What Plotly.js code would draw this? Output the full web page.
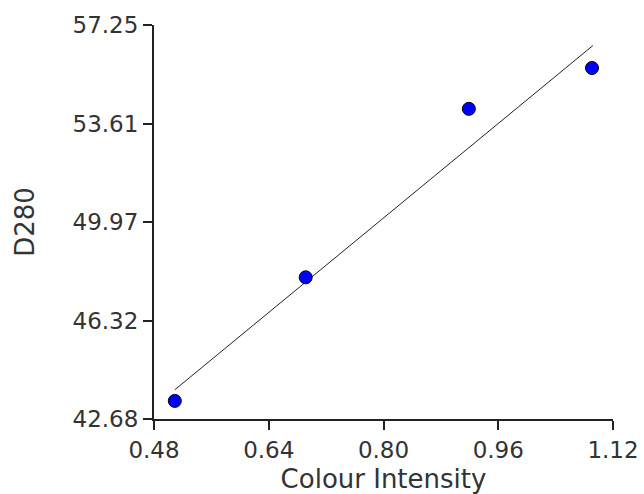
<!DOCTYPE html>
<html>
<head>
<meta charset="utf-8">
<script src="https://cdn.plot.ly/plotly-3.0.1.min.js"></script>
<style>html,body{margin:0;padding:0;background:#fff;}#chart{width:644px;height:494px;}</style>
</head>
<body>
<div id="chart"></div>
<script>
// Data
var colourIntensity = [0.509, 0.6915, 0.919, 1.0907];
var d280 = [43.35, 47.92, 54.15, 55.66];
// Fitted line end points
var fitX = [0.509, 1.092];
var fitY = [43.76, 56.49];
// Tick values and labels
var xTickVals = [0.48, 0.64, 0.80, 0.96, 1.12];
var xTickText = ['0.48', '0.64', '0.80', '0.96', '1.12'];
var yTickVals = [42.68, 46.3225, 49.965, 53.6075, 57.25];
var yTickText = ['42.68', '46.32', '49.97', '53.61', '57.25'];

var font = 'DejaVu Sans, Arial, sans-serif';

var traces = [
  {
    x: fitX, y: fitY, mode: 'lines', type: 'scatter',
    line: {color: '#222', width: 1}, hoverinfo: 'skip', showlegend: false
  },
  {
    x: colourIntensity, y: d280, mode: 'markers', type: 'scatter',
    marker: {color: '#0000ff', size: 13, line: {color: '#000', width: 1}},
    showlegend: false
  }
];

var layout = {
  width: 644, height: 494,
  margin: {l: 154, r: 31, t: 25, b: 75},
  paper_bgcolor: '#fff', plot_bgcolor: '#fff',
  showlegend: false,
  font: {family: font, size: 23, color: '#333'},
  xaxis: {
    range: [0.48, 1.12], tickmode: 'array', tickvals: xTickVals, ticktext: xTickText,
    showgrid: false, zeroline: false, showline: true, linecolor: '#222', linewidth: 2,
    ticks: 'outside', ticklen: 9, tickwidth: 2, tickcolor: '#222',
    tickfont: {family: font, size: 23, color: '#333'},
    title: {text: 'Colour Intensity', font: {family: font, size: 26, color: '#333'}, standoff: 15}
  },
  yaxis: {
    range: [42.68, 57.25], tickmode: 'array', tickvals: yTickVals, ticktext: yTickText,
    showgrid: false, zeroline: false, showline: true, linecolor: '#222', linewidth: 2,
    ticks: 'outside', ticklen: 9, tickwidth: 2, tickcolor: '#222',
    tickfont: {family: font, size: 23, color: '#333'},
    title: {text: 'D280', font: {family: font, size: 26, color: '#333'}, standoff: 30}
  }
};

Plotly.newPlot('chart', traces, layout, {displayModeBar: false, staticPlot: true});
</script>
</body>
</html>
